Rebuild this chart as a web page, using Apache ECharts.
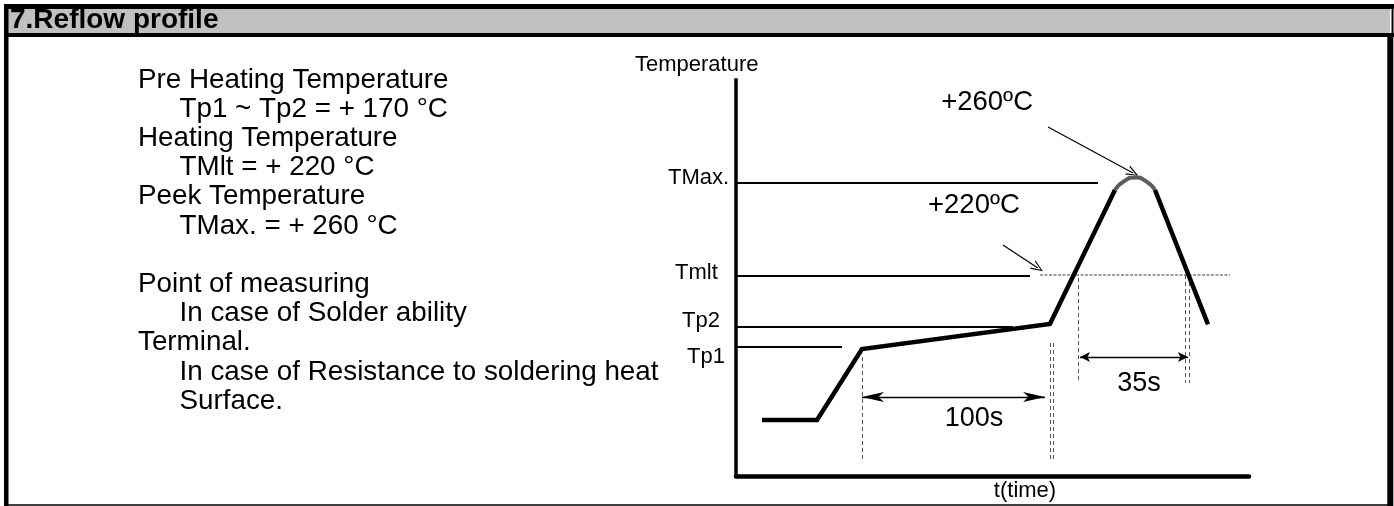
<!DOCTYPE html>
<html><head><meta charset="utf-8">
<script src="https://cdn.jsdelivr.net/npm/echarts@6/dist/echarts.min.js"></script>
<style>html,body{margin:0;padding:0;background:#fff}#c{width:1394px;height:506px}</style>
</head><body><div id="c"></div>
<script>
// ---------- data (time in s, temperature in °C, schematic) ----------
const titleText = '7.Reflow profile';
const noteLines = ['Pre Heating Temperature', 'Tp1 ~ Tp2 = + 170 °C', 'Heating Temperature', 'TMlt = + 220 °C',
  'Peek Temperature', 'TMax. = + 260 °C', '', 'Point of measuring', 'In case of Solder ability', 'Terminal.',
  'In case of Resistance to soldering heat', 'Surface.'];
const noteIndent = [0, 1, 0, 1, 0, 1, 0, 0, 1, 0, 1, 1];
const axisNames = ['Temperature', 't(time)'];
const levelNames = ['TMax.', 'Tmlt', 'Tp2', 'Tp1'];
const levelTemps = [260, 220, 198.1, 189.5];
const levelLineEnd = [192.6, 156.4, 147.3, 56.4];
const profileTime = [13.8, 43.1, 67.0, 167.0, 201.6];
const profileTemp = [158.1, 158.1, 188.6, 199.4, 257.0];
const peakTime = [201.6, 206.5, 212.2, 218.0, 222.9];
const peakTemp = [257.0, 260.8, 262.4, 260.8, 257.0];
const coolTime = [222.9, 251.1];
const coolTemp = [257.0, 199.2];
const meltDottedTime = [161.7, 262.8];
const meltDottedTemp = 220.4;
const markerTime = [67.0, 167.0, 168.6, 181.9, 238.8, 241.0];
const markerTop = [185.2, 191.2, 191.2, 219.1, 220.4, 220.4];
const markerBottom = [141.3, 140.9, 140.9, 174.0, 174.0, 174.0];
const spanLabels = ['100s', '35s'];
const spanFrom = [67.0, 183.0];
const spanTo = [164.4, 240.4];
const spanTemp = [168.0, 185.2];
const calloutLabels = ['+260ºC', '+220ºC'];
const calloutFrom = [[166.0, 284.1], [142.0, 233.3]];
const calloutTo = [[211.2, 264.3], [160.6, 223.5]];

// ---------- chart ----------
const FONT = "'Liberation Sans', Arial, Helvetica, sans-serif";
const chart = echarts.init(document.getElementById('c'), null, {renderer: 'canvas'});

function txt(text, x, y, size, align, weight) {
  return {type: 'text', x: x, y: y, silent: true, z: 50,
    style: {text: text, fill: '#000', font: (weight || 'normal') + ' ' + size + 'px ' + FONT,
      align: align || 'left', verticalAlign: 'middle'}};
}
function rect(x, y, w, h, fill) {
  return {type: 'rect', silent: true, z: 40, shape: {x: x, y: y, width: w, height: h}, style: {fill: fill}};
}

const graphics = [
  rect(8, 9, 1382, 24, '#c0c0c0'),
  rect(4, 4, 1390, 5, '#000'),
  rect(4, 33, 1390, 4, '#000'),
  rect(1391.5, 9, 2, 24, '#000'),
  rect(4, 4, 4.5, 502, '#000'),
  rect(1387.3, 37, 6, 469, '#000'),
  rect(4, 504.3, 1389, 1.5, '#000'),
  txt(titleText, 10, 20.3, 28, 'left', 'bold')
];
const NOTE_SIZE = 27.8;
noteLines.forEach((s, i) => {
  if (!s) return;
  graphics.push(txt(s, noteIndent[i] ? 179.5 : 138, 89.5 + 29.2 * i - 9.6, NOTE_SIZE));
});
graphics.push(txt(axisNames[0], 635, 65.4, 22));
graphics.push(txt(axisNames[1], 1025, 491, 22, 'center'));
const levelLabelPos = [[668, 178.4], [675, 273.4], [682, 321], [687, 357.4]];
levelNames.forEach((n, i) => graphics.push(txt(n, levelLabelPos[i][0], levelLabelPos[i][1], 22)));
graphics.push(txt(calloutLabels[0], 1033, 102.5, 27.5, 'right'));
graphics.push(txt(calloutLabels[1], 928, 205.5, 27.5, 'left'));
graphics.push(txt(spanLabels[0], 974, 418.5, 27, 'center'));
graphics.push(txt(spanLabels[1], 1139, 383.5, 27, 'center'));

const zip = (a, b) => a.map((v, i) => [v, b[i]]);
const spanHead = [[7.5, 22], [7.5, 10]];
const chevron = 'path://M0,12 L5,0 L10,12 L8.6,12 L5,2.6 L1.4,12 Z';

const option = {
  animation: false,
  backgroundColor: '#fff',
  grid: {left: 736, top: 80, width: 513, height: 396, containLabel: false, outerBoundsMode: 'none'},
  xAxis: {type: 'value', min: 0, max: 272.9, axisLine: {show: true, onZero: false, lineStyle: {color: '#000', width: 4.5}},
    axisTick: {show: false}, axisLabel: {show: false}, splitLine: {show: false}},
  yAxis: {type: 'value', min: 134, max: 304.3, axisLine: {show: true, onZero: false, lineStyle: {color: '#000', width: 3.5, cap: 'square'}},
    axisTick: {show: false}, axisLabel: {show: false}, splitLine: {show: false}},
  graphic: {elements: graphics},
  series: [
    {type: 'lines', coordinateSystem: 'cartesian2d', silent: true, z: 3,
      lineStyle: {color: '#000', width: 1.8, opacity: 1},
      data: levelTemps.map((t, i) => ({coords: [[0, t], [levelLineEnd[i], t]]}))},
    {type: 'lines', coordinateSystem: 'cartesian2d', silent: true, z: 3,
      lineStyle: {color: '#808080', width: 1.6, opacity: 1, type: [3, 1.5]},
      data: [{coords: [[meltDottedTime[0], meltDottedTemp], [meltDottedTime[1], meltDottedTemp]]}]},
    {type: 'lines', coordinateSystem: 'cartesian2d', silent: true, z: 3,
      lineStyle: {color: '#555', width: 1, opacity: 1, type: [4, 3]},
      data: markerTime.map((t, i) => ({coords: [[t, markerTop[i]], [t, markerBottom[i]]]}))},
    {type: 'lines', coordinateSystem: 'cartesian2d', silent: true, z: 4,
      lineStyle: {color: '#000', width: 1.3, opacity: 1},
      data: spanFrom.map((f, i) => ({coords: [[f, spanTemp[i]], [spanTo[i], spanTemp[i]]],
        symbol: ['arrow', 'arrow'], symbolSize: [spanHead[i], spanHead[i]]}))},
    {type: 'lines', coordinateSystem: 'cartesian2d', silent: true, z: 4,
      lineStyle: {color: '#000', width: 1.2, opacity: 1},
      data: calloutFrom.map((f, i) => ({coords: [f, calloutTo[i]], symbol: ['none', chevron],
        symbolSize: [[10, 12], [10, 12]]}))},
    {type: 'line', data: zip(profileTime, profileTemp), symbol: 'none', silent: true, z: 6,
      lineStyle: {color: '#000', width: 4.5, cap: 'butt', join: 'miter'}},
    {type: 'line', data: zip(peakTime, peakTemp), symbol: 'none', smooth: 0.6, silent: true, z: 6,
      lineStyle: {color: '#5c5c5c', width: 4, cap: 'butt'}},
    {type: 'line', data: zip(coolTime, coolTemp), symbol: 'none', silent: true, z: 6,
      lineStyle: {color: '#000', width: 4.5, cap: 'butt'}}
  ]
};
chart.setOption(option);
</script></body></html>
